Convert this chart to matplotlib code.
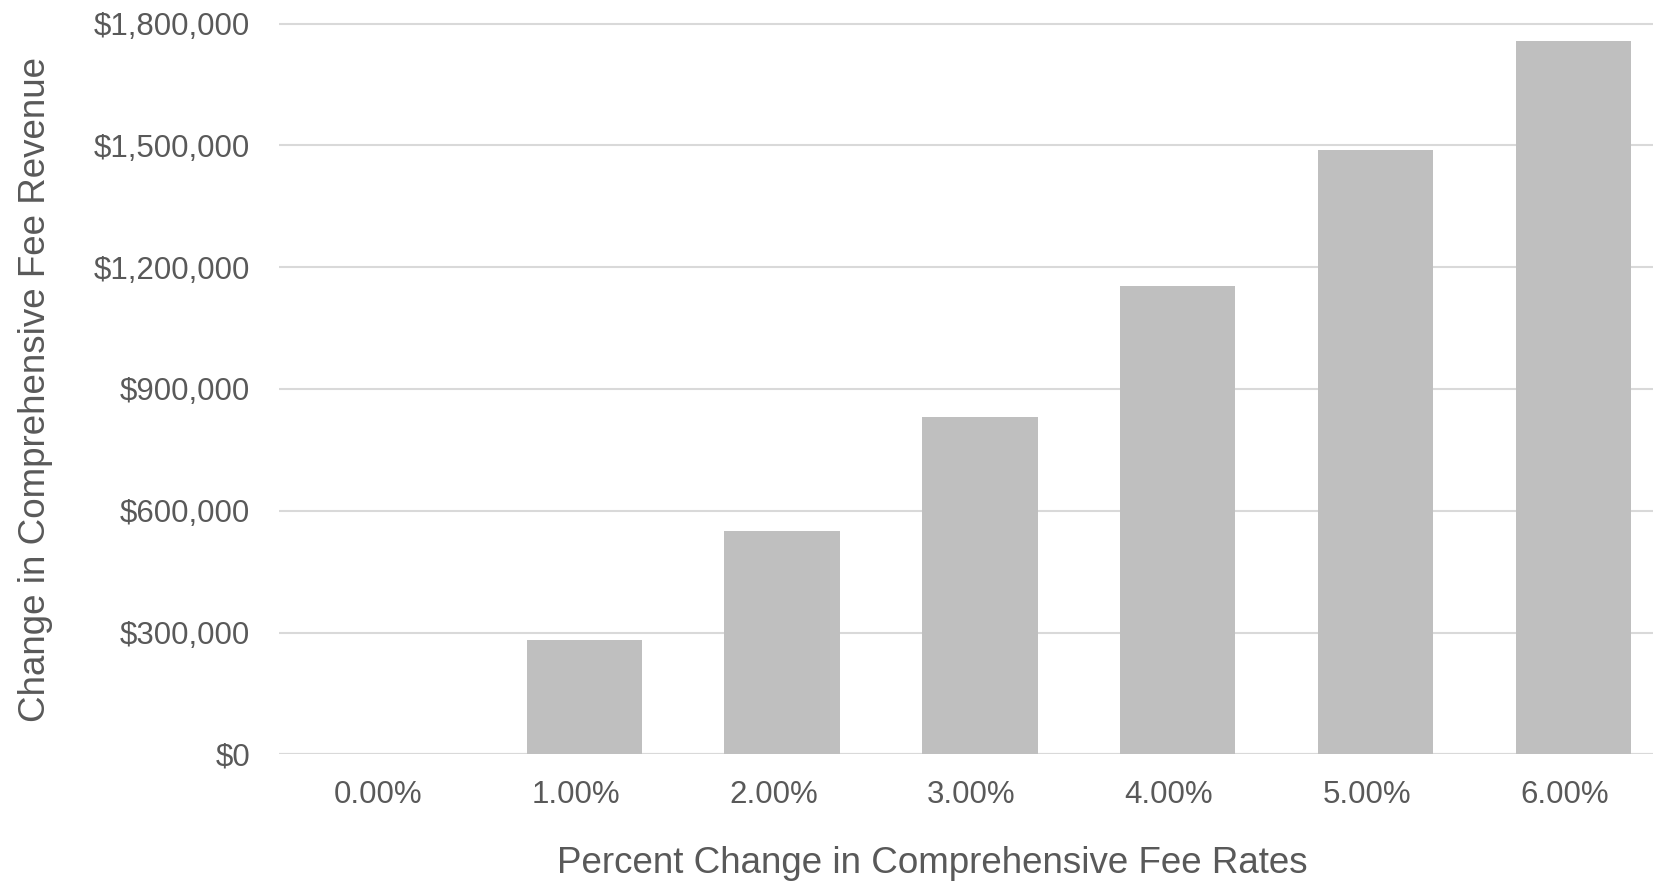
import matplotlib
matplotlib.use("Agg")
import matplotlib.pyplot as plt
import matplotlib.transforms as mtrans
from matplotlib.ticker import FuncFormatter

# data
rates = ["0.00%", "1.00%", "2.00%", "3.00%", "4.00%", "5.00%", "6.00%"]
revenue_change = [0, 281000, 549000, 831000, 1154000, 1489000, 1757000]
y_ticks = [0, 300000, 600000, 900000, 1200000, 1500000, 1800000]

plt.rcParams['font.family'] = ['Liberation Sans', 'DejaVu Sans']
text_col = "#595959"
grid_col = "#d9d9d9"
bar_col = "#bfbfbf"

W, H = 1653, 883
fig = plt.figure(figsize=(W / 100, H / 100), dpi=100)

# plot area in pixels (runs off the right edge like the reference)
left_px, right_px = 279.3, 1653
zero_px, top_px = 754.3, 19.6
ax = fig.add_axes([left_px / W, 1 - zero_px / H,
                   (right_px - left_px) / W, (zero_px - top_px) / H])

x = list(range(len(rates)))
ax.bar(x, revenue_change, width=0.583, color=bar_col, zorder=2)

ax.set_xlim(-0.542, 6.403)
ax.set_ylim(0, 1810000)
ax.set_yticks(y_ticks)
ax.set_xticks(x)
ax.set_xticklabels(rates)
ax.yaxis.set_major_formatter(FuncFormatter(lambda v, p: f"${v:,.0f}"))

ax.grid(axis="y", color=grid_col, linewidth=1.5, zorder=0)
ax.set_axisbelow(True)
for s in ax.spines.values():
    s.set_visible(False)
ax.axhline(0, color=grid_col, linewidth=1.5, zorder=1)

ax.tick_params(axis="both", length=0, labelsize=22.5, colors=text_col)
ax.tick_params(axis="y", pad=21)
ax.tick_params(axis="x", pad=18.8)

# category labels sit a little left of the bar centres in the original
shift = mtrans.ScaledTranslation(-8.8 / 100, 0, fig.dpi_scale_trans)
for lbl in ax.get_xticklabels():
    lbl.set_transform(lbl.get_transform() + shift)

fig.text(932 / W, 1 - 873.3 / H, "Percent Change in Comprehensive Fee Rates",
         ha="center", va="baseline", fontsize=26.5, color=text_col)
fig.text(35.3 / W, 1 - 389 / H, "Change in Comprehensive Fee Revenue",
         ha="center", va="center", rotation=90, fontsize=26.5, color=text_col)

fig.savefig("out.png", dpi=100, facecolor="white")
